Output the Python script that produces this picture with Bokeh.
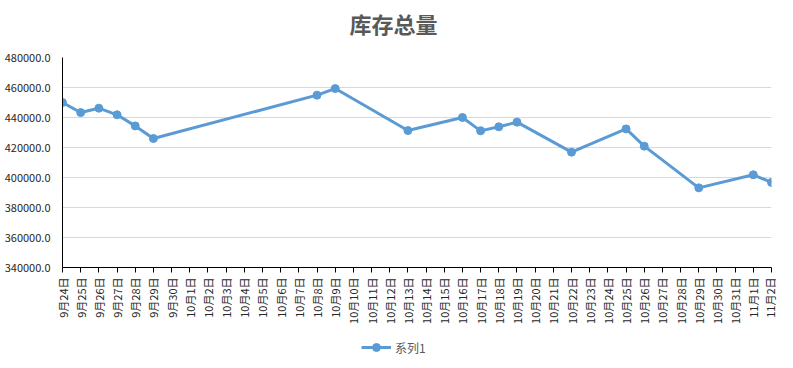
import math
from bokeh.plotting import figure
from bokeh.layouts import column
from bokeh.models import Range1d, FixedTicker, Legend, LegendItem, ColumnDataSource, Label
from bokeh.embed import file_html
from bokeh.resources import INLINE

tick_labels = ["9月24日", "9月25日", "9月26日", "9月27日", "9月28日", "9月29日", "9月30日",
               "10月1日", "10月2日", "10月3日", "10月4日", "10月5日", "10月6日", "10月7日",
               "10月8日", "10月9日", "10月10日", "10月11日", "10月12日", "10月13日", "10月14日",
               "10月15日", "10月16日", "10月17日", "10月18日", "10月19日", "10月20日", "10月21日",
               "10月22日", "10月23日", "10月24日", "10月25日", "10月26日", "10月27日", "10月28日",
               "10月29日", "10月30日", "10月31日", "11月1日", "11月2日"]

point_dates = ["9月24日", "9月25日", "9月26日", "9月27日", "9月28日", "9月29日",
               "10月8日", "10月9日", "10月13日", "10月16日", "10月17日", "10月18日",
               "10月19日", "10月22日", "10月25日", "10月26日", "10月29日", "11月1日", "11月2日"]
values = [450000, 443300, 446200, 441800, 434400, 426000,
          454900, 459300, 431300, 440000, 431100, 433800,
          436900, 416900, 432400, 420900, 393100, 401800, 396700]

y_ticks = [340000, 360000, 380000, 400000, 420000, 440000, 460000, 480000]
series_name = "系列1"
title_text = "库存总量"

FONT = "Noto Sans CJK SC"
BLUE = "#5b9bd5"

xs = [tick_labels.index(d) for d in point_dates]
src = ColumnDataSource(dict(x=xs, y=values))

# title strip (its frame is aligned with the chart frame by the column layout)
tt = figure(width=777, height=46, output_backend="svg", toolbar_location=None,
            x_axis_type=None, y_axis_type=None, min_border=0,
            x_range=Range1d(0, 1), y_range=Range1d(0, 1))
tt.outline_line_color = None
tt.grid.visible = False
tt.add_layout(Label(x=331, y=24, x_units="screen", y_units="screen", text=title_text,
                    text_align="center", text_baseline="middle", text_font=FONT,
                    text_font_size="22px", text_font_style="bold", text_color="#595959"))

# main chart
p = figure(width=777, height=284, output_backend="svg", toolbar_location=None,
           x_range=Range1d(0, len(tick_labels) - 1), y_range=Range1d(y_ticks[0], y_ticks[-1]),
           min_border_left=62, min_border_right=6, min_border_top=11, min_border_bottom=63)

p.outline_line_color = None
p.background_fill_color = "white"

p.xgrid.visible = False
p.ygrid.grid_line_color = "#d9d9d9"
p.ygrid.ticker = FixedTicker(ticks=y_ticks)

p.yaxis.ticker = FixedTicker(ticks=y_ticks)
p.yaxis.major_label_overrides = {t: f"{t:.1f}" for t in y_ticks}
p.yaxis.axis_line_color = "black"
p.yaxis.major_tick_line_color = None
p.yaxis.minor_tick_line_color = None
p.yaxis.major_label_text_font = FONT
p.yaxis.major_label_text_font_size = "11px"
p.yaxis.major_label_text_color = "#262626"
p.yaxis.major_label_standoff = 6

p.xaxis.ticker = FixedTicker(ticks=list(range(len(tick_labels))))
p.xaxis.major_label_overrides = {i: s for i, s in enumerate(tick_labels)}
p.xaxis.major_label_orientation = math.pi / 2
p.xaxis.axis_line_color = "black"
p.xaxis.major_tick_line_color = "black"
p.xaxis.major_tick_out = 5
p.xaxis.major_tick_in = 0
p.xaxis.minor_tick_line_color = None
p.xaxis.major_label_text_font = FONT
p.xaxis.major_label_text_font_size = "11px"
p.xaxis.major_label_text_color = "#262626"
p.xaxis.major_label_standoff = 5

ln = p.line("x", "y", source=src, line_color=BLUE, line_width=3)
mk = p.scatter("x", "y", source=src, size=8, fill_color=BLUE, line_color=BLUE)

# legend strip below the chart (its own renderers use the same data, kept out of view)
lg = figure(width=777, height=32, output_backend="svg", toolbar_location=None,
            x_axis_type=None, y_axis_type=None, min_border=0,
            x_range=Range1d(-2, -1), y_range=Range1d(-2, -1))
lg.outline_line_color = None
lg.grid.visible = False
lln = lg.line("x", "y", source=src, line_color=BLUE, line_width=3)
lmk = lg.scatter("x", "y", source=src, size=8, fill_color=BLUE, line_color=BLUE)
legend = Legend(items=[LegendItem(label=series_name, renderers=[lln, lmk])],
                orientation="horizontal", location=(299, 5),
                label_text_font=FONT, label_text_font_size="12px", label_text_color="#595959",
                border_line_color=None, background_fill_alpha=0, glyph_width=30, margin=0,
                padding=2, label_standoff=4)
lg.add_layout(legend, "center")

open("out.html", "w").write(file_html(column(tt, p, lg, spacing=0), INLINE))
